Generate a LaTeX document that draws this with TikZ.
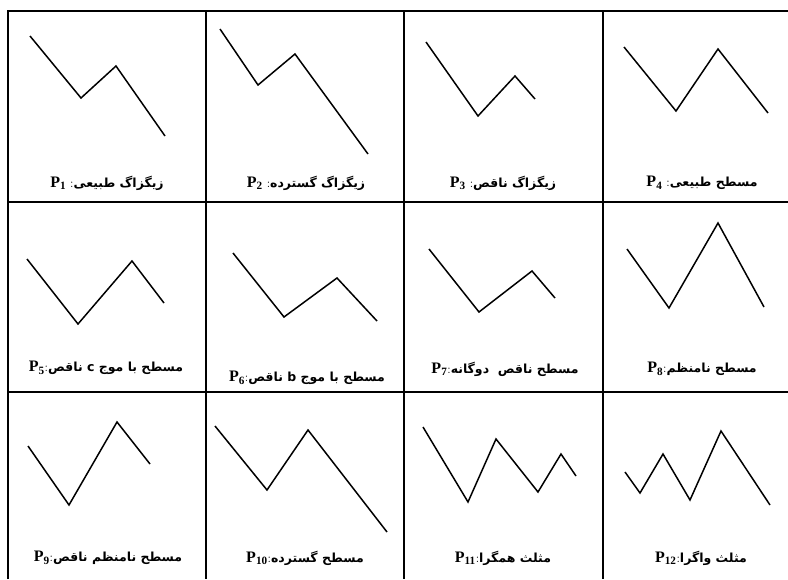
\documentclass[tikz,border=0pt]{standalone}
\usepackage{fontspec}
\usepackage{tikz}
\TeXXeTstate=1
\newfontfamily\farsifont[Script=Arabic]{DejaVu Sans}
\newfontfamily\pfont{Liberation Serif}
\newcommand{\pname}[1]{{\pfont\bfseries\fontsize{16}{18}\selectfont P\textsubscript{#1}}}
\newcommand{\fa}[1]{{\farsifont\bfseries\beginR #1\endR}}

\begin{document}
\begin{tikzpicture}[x=1pt,y=-1pt,
    wave/.style={line width=1.5pt,line join=miter},
    rule/.style={line width=1.6pt},
    plabel/.style={font=\fontsize{12.5}{14}\selectfont,inner sep=1pt}]
  \useasboundingbox (0,0) rectangle (788,579);
  % table
  \draw[rule] (8,579) -- (8,11) -- (788,11);
  \draw[rule] (8,202) -- (788,202);
  \draw[rule] (8,392) -- (788,392);
  \draw[rule] (206,11) -- (206,579);
  \draw[rule] (404,11) -- (404,579);
  \draw[rule] (603,11) -- (603,579);
  % first row
  \draw[wave] (30,36) -- (81,98) -- (116,66) -- (165,136);
  \draw[wave] (220,29) -- (258,85) -- (295,54) -- (368,154);
  \draw[wave] (426,42) -- (478,116) -- (515,76) -- (535,99);
  \draw[wave] (624,47) -- (676,111) -- (718,49) -- (768,113);
  \node[plabel] (p1) at (107,183) {\pname{1} :\fa{زیگزاگ طبیعی}};
  \node[plabel] (p2) at (306,183) {\pname{2} :\fa{زیگزاگ گسترده}};
  \node[plabel] (p3) at (503,183) {\pname{3} :\fa{زیگزاگ ناقص}};
  \node[plabel] (p4) at (702,183) {\pname{4} :\fa{مسطح طبیعی}};
  % second row
  \draw[wave] (27,259) -- (78,324) -- (132,261) -- (164,303);
  \draw[wave] (233,253) -- (284,317) -- (337,278) -- (377,321);
  \draw[wave] (429,249) -- (479,312) -- (532,271) -- (555,298);
  \draw[wave] (627,249) -- (669,308) -- (718,223) -- (764,307);
  \node[plabel] (p5) at (106,368) {\pname{5}:\fa{مسطح با موج c ناقص}};
  \node[plabel] (p6) at (307,378) {\pname{6}:\fa{مسطح با موج b ناقص}};
  \node[plabel] (p7) at (505,369) {\pname{7}:\fa{مسطح ناقص\ \ دوگانه}};
  \node[plabel] (p8) at (702,369) {\pname{8}:\fa{مسطح نامنظم}};
  % third row
  \draw[wave] (28,446) -- (69,505) -- (117,422) -- (150,464);
  \draw[wave] (215,426) -- (267,490) -- (308,430) -- (387,532);
  \draw[wave] (423,427) -- (468,502) -- (496,439) -- (538,492) -- (561,454) -- (576,476);
  \draw[wave] (625,472) -- (640,493) -- (663,454) -- (690,500) -- (721,431) -- (770,505);
  \node[plabel] (p9) at (108,558) {\pname{9}:\fa{مسطح نامنظم ناقص}};
  \node[plabel] (p10) at (305,558) {\pname{10}:\fa{مسطح گسترده}};
  \node[plabel] (p11) at (503,558) {\pname{11}:\fa{مثلث همگرا}};
  \node[plabel] (p12) at (701,558) {\pname{12}:\fa{مثلث واگرا}};
\end{tikzpicture}
\end{document}
